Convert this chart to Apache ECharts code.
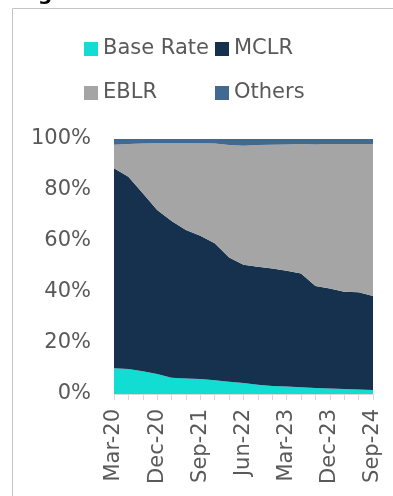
<!DOCTYPE html>
<html>
<head>
<meta charset="utf-8">
<script src="https://cdn.jsdelivr.net/npm/echarts@6/dist/echarts.min.js"></script>
<style>
  html, body { margin: 0; padding: 0; background: #fff; }
  #chart { width: 393px; height: 496px; }
</style>
</head>
<body>
<div id="chart"></div>
<script>
// quarterly share of loans by benchmark (%)
var quarters = ['Mar-20','Jun-20','Sep-20','Dec-20','Mar-21','Jun-21','Sep-21','Dec-21',
                'Mar-22','Jun-22','Sep-22','Dec-22','Mar-23','Jun-23','Sep-23','Dec-23',
                'Mar-24','Jun-24','Sep-24'];
var baseRate = [10.1, 9.8, 8.9, 7.8, 6.4, 6.1, 5.9, 5.4, 4.8, 4.3, 3.6, 3.1, 2.9, 2.6, 2.4, 2.2, 2.0, 1.8, 1.6];
var mclr     = [78.4, 75.4, 69.8, 64.4, 61.4, 58.2, 56.2, 53.7, 48.7, 46.4, 46.3, 46.1, 45.4, 44.7, 40.0, 39.2, 38.1, 38.1, 36.8];
var eblr     = [9.2, 12.8, 19.5, 26.1, 30.5, 34.0, 36.2, 39.1, 44.1, 46.7, 47.7, 48.5, 49.5, 50.7, 55.4, 56.6, 57.9, 58.1, 59.6];
var others   = [2.3, 2.0, 1.8, 1.7, 1.7, 1.7, 1.7, 1.8, 2.4, 2.6, 2.4, 2.3, 2.2, 2.0, 2.2, 2.0, 2.0, 2.0, 2.0];
var yTicks = [0, 20, 40, 60, 80, 100];

var myChart = echarts.init(document.getElementById('chart'));

var font = 'DejaVu Sans';
function area(name, data, color) {
    return {
        name: name,
        type: 'line',
        stack: 'total',
        data: data,
        symbol: 'none',
        lineStyle: { width: 0 },
        areaStyle: { color: color, opacity: 1 },
        itemStyle: { color: color },
        emphasis: { disabled: true }
    };
}
var legendText = { color: '#595959', fontFamily: font, fontSize: 21, lineHeight: 22 };

var option = {
    animation: false,
    graphic: [
        { type: 'rect', shape: { x: 12.5, y: 8.5, width: 400, height: 500 },
          style: { fill: 'none', stroke: '#c4c4c4', lineWidth: 1 } },
        { type: 'text', left: 38, top: -15,
          style: { text: 'g', fontSize: 20, fontWeight: 'bold', fill: '#000', fontFamily: font } }
    ],
    legend: [{
        orient: 'vertical', left: 79, top: 33, itemWidth: 14, itemHeight: 14, itemGap: 22,
        icon: 'rect', textStyle: legendText,
        data: ['Base Rate', 'EBLR']
    }, {
        orient: 'vertical', left: 210, top: 33, itemWidth: 14, itemHeight: 14, itemGap: 22,
        icon: 'rect', textStyle: legendText,
        data: ['MCLR', 'Others']
    }],
    grid: { left: 114, right: 20, top: 139, bottom: 102, containLabel: false },
    xAxis: {
        type: 'category',
        data: quarters,
        boundaryGap: false,
        axisLine: { lineStyle: { color: '#d9d9d9' } },
        axisTick: { interval: 0, length: 6, lineStyle: { color: '#d9d9d9' } },
        axisLabel: { interval: 2, rotate: 90, margin: 15, color: '#595959', fontFamily: font, fontSize: 21 }
    },
    yAxis: {
        type: 'value',
        min: yTicks[0], max: yTicks[yTicks.length - 1], interval: 20,
        axisLine: { show: false },
        axisTick: { show: false },
        splitLine: { show: false },
        axisLabel: { formatter: '{value}%', margin: 23, color: '#595959', fontFamily: font, fontSize: 21 }
    },
    series: [
        area('Base Rate', baseRate, '#12ddd3'),
        area('MCLR', mclr, '#15314e'),
        area('EBLR', eblr, '#a5a5a5'),
        area('Others', others, '#426a91')
    ]
};

myChart.setOption(option);
</script>
</body>
</html>
